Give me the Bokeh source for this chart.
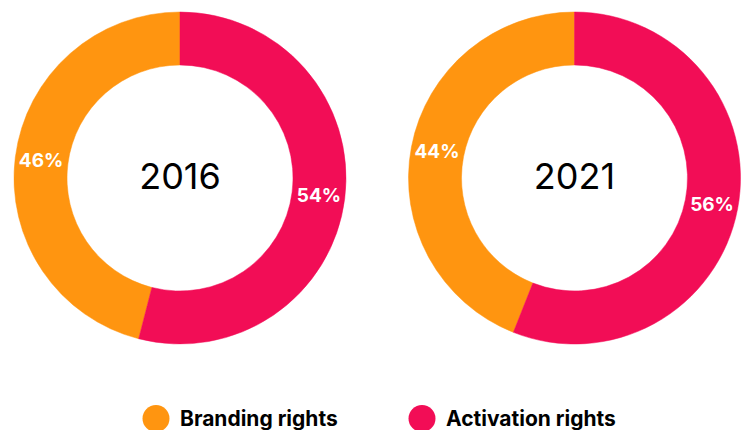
import math
from bokeh.plotting import figure
from bokeh.models import Range1d, ColumnDataSource
from bokeh.core.properties import value
from bokeh.embed import file_html
from bokeh.resources import INLINE

years = ["2016", "2021"]
categories = ["Branding rights", "Activation rights"]
branding = [46, 44]
activation = [54, 56]
colors = ["#FF9510", "#F20D56"]

W, H = 741, 430
p = figure(width=W, height=H, output_backend="svg", toolbar_location=None,
           x_range=Range1d(0, W), y_range=Range1d(0, H),
           min_border=0, min_border_left=0, min_border_right=0,
           min_border_top=0, min_border_bottom=0)
p.axis.visible = False
p.xgrid.visible = False
p.ygrid.visible = False
p.outline_line_color = None
p.background_fill_color = "white"
p.border_fill_color = "white"

# layout in screen pixels (data units map 1:1 to pixels, y up)
centers_x = [179.5, 574]
center_y = H - 177.5
r_in, r_out = 113, 166
r_lab = 140

wx, wy, ws, we, wc = [], [], [], [], []
lx, ly, lt = [], [], []
for i, yr in enumerate(years):
    b = branding[i] / 100.0
    a = activation[i] / 100.0
    top = math.pi / 2
    s1, e1 = top, top + 2 * math.pi * b
    s2, e2 = top - 2 * math.pi * a, top
    for (s, e, c, v) in [(s1, e1, colors[0], branding[i]), (s2, e2, colors[1], activation[i])]:
        wx.append(centers_x[i]); wy.append(center_y)
        ws.append(s); we.append(e); wc.append(c)
        m = (s + e) / 2
        lx.append(centers_x[i] + r_lab * math.cos(m))
        ly.append(center_y + r_lab * math.sin(m))
        lt.append(f"{v}%")

src = ColumnDataSource(dict(x=wx, y=wy, s=ws, e=we, c=wc))
p.annular_wedge(x="x", y="y", inner_radius=r_in, outer_radius=r_out,
                inner_radius_units="screen", outer_radius_units="screen",
                start_angle="s", end_angle="e", fill_color="c", line_color="c",
                line_width=0.5, source=src)

p.text(x=lx, y=ly, text=lt, text_color="white", text_font=value("Inter"),
       text_font_style="bold", text_font_size="19px", text_align="center",
       text_baseline="middle")

p.text(x=centers_x, y=[center_y + 2] * 2, text=years, text_color="black",
       text_font=value("Inter"), text_font_size="36px", text_align="center",
       text_baseline="middle")

# legend
leg_y = H - 418
leg_cx = [155.5, 421.5]
p.scatter(x=leg_cx, y=[leg_y] * 2, size=27, marker="circle",
          fill_color=colors, line_color=None)
p.text(x=[c + 24 for c in leg_cx], y=[leg_y] * 2, text=categories,
       text_color="black", text_font=value("Inter"), text_font_style="bold",
       text_font_size="21px", text_align="left", text_baseline="middle")

open("out.html", "w").write(file_html(p, INLINE))
